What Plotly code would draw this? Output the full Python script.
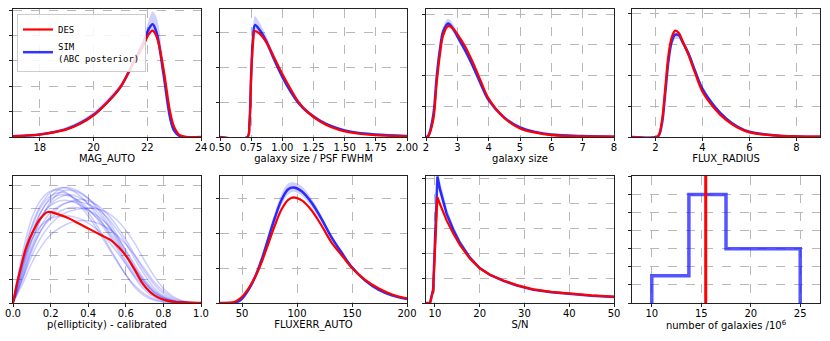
import plotly.graph_objects as go
from plotly.subplots import make_subplots

# ---------- values (y in units of one grid step) ----------
# MAG_AUTO
mag_x = [17, 17.5, 18, 18.5, 19, 19.5, 20, 20.5, 21, 21.5, 21.85, 22.05, 22.2, 22.35, 22.6, 22.85, 23.0, 23.2, 23.4, 24]
mag_des = [0.03, 0.06, 0.1, 0.18, 0.3, 0.52, 0.85, 1.35, 1.97, 2.95, 3.6, 4.05, 4.2, 3.95, 2.7, 1.0, 0.4, 0.08, 0.01, 0.0]
mag_sim_lo = [0.02, 0.05, 0.08, 0.15, 0.27, 0.48, 0.8, 1.28, 1.88, 2.85, 3.5, 3.95, 4.15, 3.8, 2.3, 0.6, 0.18, 0.02, 0.0, 0.0]
mag_sim_mid = [0.03, 0.06, 0.1, 0.19, 0.32, 0.55, 0.88, 1.36, 1.97, 2.98, 3.7, 4.25, 4.45, 4.1, 2.5, 0.75, 0.25, 0.04, 0.0, 0.0]
mag_sim_hi = [0.04, 0.08, 0.13, 0.24, 0.4, 0.65, 1.0, 1.5, 2.1, 3.1, 3.9, 4.6, 4.95, 4.7, 3.0, 1.0, 0.35, 0.08, 0.01, 0.0]

# galaxy size / PSF FWHM
rpsf_x = [0.5, 0.72, 0.735, 0.75, 0.765, 0.78, 0.82, 0.87, 0.93, 1.0, 1.07, 1.13, 1.2, 1.3, 1.4, 1.5, 1.6, 1.75, 2.0]
rpsf_des = [0, 0, 0.3, 1.7, 2.7, 3.03, 2.95, 2.72, 2.3, 1.8, 1.35, 1.0, 0.72, 0.45, 0.27, 0.16, 0.1, 0.05, 0.02]
rpsf_sim_lo = [0, 0, 0.3, 1.6, 2.6, 2.95, 2.9, 2.62, 2.15, 1.65, 1.22, 0.92, 0.68, 0.44, 0.28, 0.17, 0.1, 0.06, 0.02]
rpsf_sim_mid = [0, 0, 0.35, 1.8, 2.85, 3.2, 3.05, 2.75, 2.25, 1.72, 1.28, 0.97, 0.72, 0.47, 0.3, 0.19, 0.12, 0.07, 0.03]
rpsf_sim_hi = [0, 0, 0.4, 2.0, 3.1, 3.45, 3.25, 2.9, 2.4, 1.85, 1.4, 1.06, 0.79, 0.52, 0.34, 0.22, 0.14, 0.08, 0.04]

# galaxy size
size_x = [2, 2.07, 2.23, 2.34, 2.45, 2.55, 2.71, 2.85, 3.0, 3.25, 3.5, 3.75, 4.0, 4.5, 5.0, 5.5, 6.0, 7.0, 8.0]
size_des = [0, 0.02, 0.55, 1.75, 2.73, 3.32, 3.62, 3.55, 3.35, 2.95, 2.42, 1.82, 1.25, 0.62, 0.28, 0.14, 0.06, 0.02, 0.01]
size_sim_lo = [0, 0.02, 0.55, 1.75, 2.7, 3.3, 3.55, 3.42, 3.18, 2.72, 2.2, 1.64, 1.12, 0.57, 0.27, 0.13, 0.06, 0.02, 0.01]
size_sim_mid = [0, 0.04, 0.7, 1.95, 2.9, 3.45, 3.7, 3.55, 3.28, 2.82, 2.3, 1.72, 1.2, 0.63, 0.31, 0.16, 0.08, 0.03, 0.01]
size_sim_hi = [0, 0.06, 0.85, 2.15, 3.05, 3.6, 3.85, 3.7, 3.42, 2.95, 2.42, 1.82, 1.28, 0.7, 0.36, 0.19, 0.1, 0.04, 0.02]

# FLUX_RADIUS
frad_x = [1, 2.05, 2.15, 2.28, 2.42, 2.56, 2.7, 2.84, 3.0, 3.13, 3.4, 3.69, 4.0, 4.5, 5.0, 5.5, 6.0, 7.0, 8.0, 9.0]
frad_des = [0, 0, 0.08, 0.55, 1.62, 2.7, 3.24, 3.43, 3.35, 3.13, 2.65, 2.05, 1.46, 0.93, 0.55, 0.3, 0.15, 0.05, 0.02, 0.01]
frad_sim_lo = [0, 0, 0.03, 0.35, 1.3, 2.35, 2.95, 3.15, 3.15, 2.98, 2.6, 2.02, 1.48, 0.95, 0.55, 0.3, 0.15, 0.05, 0.02, 0.01]
frad_sim_mid = [0, 0, 0.06, 0.45, 1.45, 2.5, 3.1, 3.3, 3.28, 3.1, 2.7, 2.12, 1.55, 1.0, 0.6, 0.33, 0.17, 0.06, 0.02, 0.01]
frad_sim_hi = [0, 0, 0.1, 0.6, 1.65, 2.7, 3.3, 3.45, 3.4, 3.22, 2.8, 2.22, 1.63, 1.06, 0.65, 0.36, 0.19, 0.07, 0.03, 0.01]

# p(ellipticity) - calibrated
ell_x_des = [0, 0.02, 0.04, 0.07, 0.11, 0.145, 0.185, 0.23, 0.29, 0.35, 0.41, 0.47, 0.52, 0.565, 0.605, 0.645, 0.685, 0.725, 0.765, 0.82, 0.87, 0.93, 1.0]
ell_des = [0, 0.8, 1.45, 2.35, 3.1, 3.58, 3.87, 3.8, 3.62, 3.38, 3.13, 2.88, 2.67, 2.35, 1.96, 1.45, 0.89, 0.5, 0.26, 0.1, 0.04, 0.02, 0.01]
ell_x_sim = [0, 0.05, 0.1, 0.15, 0.2, 0.25, 0.3, 0.35, 0.4, 0.45, 0.5, 0.55, 0.6, 0.65, 0.7, 0.75, 0.8, 0.85, 0.9, 0.95, 1.0]
ell_sims = [
    [0, 1.9, 3.3, 4.2, 4.7, 4.9, 4.85, 4.6, 4.2, 3.7, 3.1, 2.45, 1.8, 1.2, 0.7, 0.35, 0.15, 0.06, 0.02, 0.01, 0],
    [0, 1.5, 2.9, 3.9, 4.5, 4.85, 4.9, 4.75, 4.45, 4.0, 3.45, 2.8, 2.1, 1.45, 0.9, 0.5, 0.25, 0.1, 0.04, 0.01, 0],
    [0, 1.6, 2.9, 3.7, 4.15, 4.35, 4.35, 4.2, 3.95, 3.6, 3.15, 2.6, 2.0, 1.4, 0.85, 0.45, 0.2, 0.08, 0.03, 0.01, 0],
    [0, 0.8, 1.7, 2.4, 2.9, 3.2, 3.4, 3.5, 3.5, 3.4, 3.2, 2.9, 2.5, 2.0, 1.45, 0.9, 0.5, 0.22, 0.08, 0.02, 0],
    [0, 1.2, 2.4, 3.3, 3.85, 4.15, 4.3, 4.3, 4.2, 4.0, 3.65, 3.15, 2.55, 1.85, 1.2, 0.65, 0.3, 0.12, 0.04, 0.01, 0],
    [0, 1.8, 3.2, 4.1, 4.55, 4.7, 4.6, 4.3, 3.85, 3.25, 2.55, 1.85, 1.2, 0.65, 0.3, 0.12, 0.04, 0.01, 0, 0, 0],
    [0, 1.6, 2.7, 3.3, 3.6, 3.7, 3.7, 3.6, 3.4, 3.1, 2.7, 2.2, 1.65, 1.1, 0.65, 0.32, 0.13, 0.05, 0.02, 0, 0],
    [0, 1.3, 2.6, 3.6, 4.3, 4.7, 4.8, 4.7, 4.45, 4.1, 3.6, 2.95, 2.2, 1.5, 0.9, 0.45, 0.2, 0.07, 0.02, 0.01, 0],
    [0, 1.0, 2.2, 3.1, 3.7, 4.1, 4.3, 4.4, 4.35, 4.15, 3.8, 3.3, 2.7, 2.0, 1.35, 0.8, 0.4, 0.16, 0.06, 0.02, 0],
    [0, 1.7, 3.0, 3.9, 4.4, 4.6, 4.55, 4.35, 4.0, 3.55, 3.0, 2.35, 1.7, 1.05, 0.55, 0.25, 0.1, 0.03, 0.01, 0, 0],
    [0, 1.1, 2.3, 3.1, 3.6, 3.9, 4.05, 4.05, 3.95, 3.7, 3.35, 2.85, 2.25, 1.6, 1.0, 0.55, 0.25, 0.1, 0.03, 0.01, 0],
    [0, 1.4, 2.7, 3.6, 4.2, 4.5, 4.6, 4.5, 4.25, 3.85, 3.35, 2.7, 2.0, 1.3, 0.75, 0.38, 0.17, 0.06, 0.02, 0.01, 0],
    [0, 2.1, 3.6, 4.4, 4.75, 4.8, 4.6, 4.2, 3.7, 3.1, 2.45, 1.8, 1.2, 0.72, 0.38, 0.17, 0.07, 0.02, 0.01, 0, 0],
    [0, 1.0, 2.0, 2.8, 3.35, 3.7, 3.9, 4.0, 4.05, 4.0, 3.85, 3.55, 3.1, 2.5, 1.8, 1.15, 0.62, 0.28, 0.1, 0.03, 0],
]

# FLUXERR_AUTO
ferr_x = [30, 40, 45, 50, 56, 62, 68, 74, 80, 86, 92, 97, 104, 113, 122, 131, 141, 150, 162, 174, 186, 200]
ferr_des = [0, 0.01, 0.06, 0.18, 0.42, 0.75, 1.18, 1.7, 2.23, 2.68, 2.95, 3.02, 2.94, 2.66, 2.23, 1.75, 1.35, 1.0, 0.66, 0.42, 0.25, 0.13]
ferr_sim_lo = [0, 0, 0.01, 0.09, 0.32, 0.66, 1.12, 1.7, 2.3, 2.8, 3.1, 3.18, 3.07, 2.76, 2.32, 1.82, 1.36, 0.97, 0.6, 0.35, 0.2, 0.1]
ferr_sim_mid = [0, 0, 0.02, 0.12, 0.38, 0.75, 1.25, 1.85, 2.45, 2.95, 3.25, 3.3, 3.2, 2.88, 2.42, 1.9, 1.42, 1.02, 0.64, 0.38, 0.22, 0.11]
ferr_sim_hi = [0, 0, 0.04, 0.16, 0.45, 0.85, 1.38, 2.0, 2.6, 3.12, 3.42, 3.45, 3.35, 3.0, 2.52, 1.98, 1.48, 1.07, 0.68, 0.41, 0.24, 0.12]

# S/N
snr_x = [8, 8.9, 9.6, 10.55, 11.1, 12.6, 14.1, 15.6, 17.8, 20, 22.3, 25.3, 28.3, 32, 36, 40, 45, 50]
snr_des = [0, 0, 0.5, 4.27, 4.0, 3.33, 2.8, 2.33, 1.79, 1.4, 1.14, 0.91, 0.72, 0.55, 0.45, 0.38, 0.31, 0.26]
snr_sim_lo = [0, 0, 0.45, 4.8, 4.35, 3.45, 2.85, 2.35, 1.78, 1.37, 1.1, 0.87, 0.68, 0.52, 0.42, 0.35, 0.28, 0.23]
snr_sim_mid = [0, 0, 0.55, 5.1, 4.6, 3.6, 2.95, 2.42, 1.83, 1.41, 1.13, 0.89, 0.7, 0.53, 0.43, 0.36, 0.29, 0.24]
snr_sim_hi = [0, 0, 0.7, 5.4, 4.95, 3.85, 3.12, 2.55, 1.9, 1.46, 1.17, 0.92, 0.72, 0.55, 0.45, 0.37, 0.3, 0.25]

# number of galaxies / 10^6
ngal_edges = [10, 13.75, 17.5, 21.25, 25]
ngal_counts = [1.5, 6, 3, 3]
ngal_des = 15.45

RED = "#ff0000"
BLUE_LINE = "rgba(0,0,255,0.8)"
BLUE_FILL = "rgba(40,40,255,0.22)"
FONT = "DejaVu Sans, Liberation Sans, sans-serif"

fig = make_subplots(rows=2, cols=4)


def add_band(row, col, x, des, lo, mid, hi, shape="spline", legend=False):
    fig.add_trace(go.Scatter(x=x, y=lo, mode="lines", line=dict(width=0, shape=shape),
                             showlegend=False, hoverinfo="skip"), row=row, col=col)
    fig.add_trace(go.Scatter(x=x, y=hi, mode="lines", line=dict(width=0, shape=shape),
                             fill="tonexty", fillcolor=BLUE_FILL,
                             showlegend=False, hoverinfo="skip"), row=row, col=col)
    fig.add_trace(go.Scatter(x=x, y=mid, mode="lines", name="SIM<br>(ABC posterior)",
                             line=dict(color=BLUE_LINE, width=2.5, shape=shape),
                             showlegend=legend), row=row, col=col)
    fig.add_trace(go.Scatter(x=x, y=des, mode="lines", name="DES",
                             line=dict(color=RED, width=2.2, shape=shape),
                             showlegend=legend), row=row, col=col)


add_band(1, 1, mag_x, mag_des, mag_sim_lo, mag_sim_mid, mag_sim_hi, legend=True)
add_band(1, 2, rpsf_x, rpsf_des, rpsf_sim_lo, rpsf_sim_mid, rpsf_sim_hi)
add_band(1, 3, size_x, size_des, size_sim_lo, size_sim_mid, size_sim_hi)
add_band(1, 4, frad_x, frad_des, frad_sim_lo, frad_sim_mid, frad_sim_hi)
add_band(2, 2, ferr_x, ferr_des, ferr_sim_lo, ferr_sim_mid, ferr_sim_hi)
add_band(2, 3, snr_x, snr_des, snr_sim_lo, snr_sim_mid, snr_sim_hi, shape="linear")

# ellipticity: individual posterior draws
for s in ell_sims:
    fig.add_trace(go.Scatter(x=ell_x_sim, y=s, mode="lines", showlegend=False,
                             line=dict(color="rgba(0,0,255,0.2)", width=1.5, shape="spline")),
                  row=2, col=1)
fig.add_trace(go.Scatter(x=ell_x_des, y=ell_des, mode="lines", showlegend=False,
                         line=dict(color=RED, width=2.2, shape="spline")), row=2, col=1)

# number of galaxies: step histogram
step_x = [ngal_edges[0]] + ngal_edges[:-1] + [ngal_edges[-1]]
step_y = [0] + ngal_counts + [0]
fig.add_trace(go.Scatter(x=step_x, y=step_y, mode="lines", showlegend=False,
                         line=dict(color="rgba(30,30,255,0.75)", width=3.5, shape="hv")),
              row=2, col=4)
fig.add_vline(x=ngal_des, line=dict(color=RED, width=3), row=2, col=4)

# ---------- axes ----------
col_dom = [[13 / 830, 201 / 830], [220 / 830, 407 / 830], [426 / 830, 614 / 830], [632 / 830, 820 / 830]]
row_dom = [[1 - 137 / 341, 1 - 9 / 341], [1 - 303 / 341, 1 - 176 / 341]]

panels = [
    # row, col, xrange, xdtick, xtick0, xfmt, ymax, title
    (1, 1, [17, 24], 2, 18, None, 5.05, "MAG_AUTO"),
    (1, 2, [0.5, 2.0], 0.25, 0.5, ".2f", 3.66, "galaxy size / PSF FWHM"),
    (1, 3, [2, 8], 1, 2, None, 4.17, "galaxy size"),
    (1, 4, [1, 9], 2, 2, None, 4.13, "FLUX_RADIUS"),
    (2, 1, [0, 1], 0.2, 0, ".1f", 5.4, "p(ellipticity) - calibrated"),
    (2, 2, [30, 200], 50, 50, None, 3.63, "FLUXERR_AUTO"),
    (2, 3, [8, 50], 10, 10, None, 5.12, "S/N"),
    (2, 4, [8, 27], 5, 10, None, 7.02, "number of galaxies /10<sup>6</sup>"),
]
for row, col, xr, dt, t0, fmt, ymax, title in panels:
    fig.update_xaxes(range=xr, dtick=dt, tick0=t0, tickformat=fmt, domain=col_dom[col - 1],
                     title=dict(text=title, standoff=1, font=dict(size=10, family=FONT, color="black")),
                     row=row, col=col)
    fig.update_yaxes(range=[0, ymax], dtick=1, tick0=0, showticklabels=False,
                     domain=row_dom[row - 1], row=row, col=col)

fig.update_xaxes(showline=True, mirror=True, linecolor="#222", linewidth=1,
                 ticks="outside", ticklen=3, tickwidth=1, tickcolor="#222",
                 tickfont=dict(size=10, family=FONT, color="black"), ticklabelstandoff=-2,
                 showgrid=True, gridcolor="#b8b8b8", griddash="dash", gridwidth=0.8,
                 zeroline=False, layer="below traces", automargin=False)
fig.update_yaxes(showline=True, mirror=True, linecolor="#222", linewidth=1,
                 ticks="outside", ticklen=3, tickwidth=1, tickcolor="#222",
                 showgrid=True, gridcolor="#b8b8b8", griddash="dash", gridwidth=0.8,
                 zeroline=False, layer="below traces", automargin=False)

fig.update_layout(
    width=830, height=341,
    margin=dict(l=0, r=0, t=0, b=0),
    paper_bgcolor="white", plot_bgcolor="white",
    font=dict(family=FONT, size=10, color="black"),
    legend=dict(x=17 / 830, y=1 - 14 / 341, xanchor="left", yanchor="top", xref="paper", yref="paper",
                bgcolor="rgba(255,255,255,0.85)", bordercolor="#cccccc", borderwidth=1,
                font=dict(family="DejaVu Sans Mono, monospace", size=9, color="black"),
                traceorder="reversed", itemwidth=30, tracegroupgap=0),
)

# drop the browser's default body margin so the figure sits at the window origin
fig.write_html("out.html", config={"displayModeBar": False},
               post_script="document.body.style.margin='0px';")
